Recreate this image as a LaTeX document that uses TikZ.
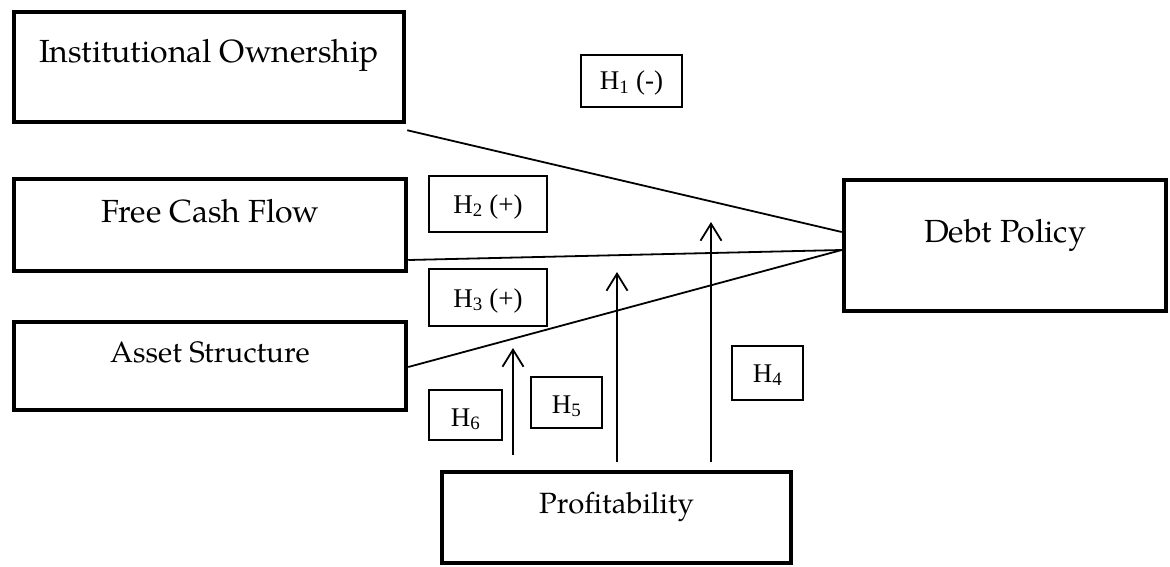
\documentclass[tikz,border=0pt]{standalone}
\usepackage{fontspec}
\setmainfont{texgyrepagella-regular.otf}
\newfontfamily\tms{Liberation Serif}
\usetikzlibrary{arrows.meta,calc}
\begin{document}
\begin{tikzpicture}[x=1pt,y=-1pt,
  mainbox/.style={draw, line width=4.5pt, inner sep=0pt, align=center},
  hyp/.style={draw, line width=1.3pt, inner sep=0pt, align=center, font=\tms\fontsize{27}{30}\selectfont},
  conn/.style={line width=1.8pt},
  arr/.style={conn, -{Straight Barb[length=17pt,width=21pt]}}]
\useasboundingbox (0,0) rectangle (1170,567);
% main boxes
\node[mainbox, minimum width=390pt, text height=51pt, text depth=59pt, font=\fontsize{32}{35}\selectfont] (io) at (209,67) {Institutional Ownership};
\node[mainbox, minimum width=392pt, text height=43pt, text depth=49pt, font=\fontsize{32}{35}\selectfont] (fcf) at (210,225) {Free Cash Flow};
\node[mainbox, minimum width=392pt, text height=40pt, text depth=48pt, font=\fontsize{29.5}{32}\selectfont] (as) at (210,366) {Asset Structure};
\node[mainbox, minimum width=322pt, text height=62pt, text depth=69pt, font=\fontsize{32}{35}\selectfont] (dp) at (1005,245.5) {Debt Policy};
\node[mainbox, minimum width=349pt, text height=41pt, text depth=50pt, font=\fontsize{29.3}{32}\selectfont] (pr) at (616.5,517.5) {Profitability};
% hypothesis labels
\node[hyp, minimum width=101pt, text height=35pt, text depth=17pt] (h1) at (631.5,81) {H\textsubscript{1} (-)};
\node[hyp, minimum width=118pt, text height=37pt, text depth=19pt] (h2) at (488,204) {H\textsubscript{2} (+)};
\node[hyp, minimum width=118pt, text height=38pt, text depth=19pt] (h3) at (488,297.5) {H\textsubscript{3} (+)};
\node[hyp, minimum width=71pt, text height=36pt, text depth=18pt] (h4) at (767.5,373) {H\textsubscript{4}};
\node[hyp, minimum width=71pt, text height=36pt, text depth=15pt] (h5) at (566.5,402.5) {H\textsubscript{5}};
\node[hyp, minimum width=73pt, text height=36pt, text depth=14pt] (h6) at (465.5,415) {H\textsubscript{6}};
% connectors
\draw[conn] ($(io.south east)+(1,6)$) -- ($(dp.west)+(0,-13.5)$);
\draw[conn] ($(fcf.east)+(0,35)$) -- ($(dp.west)+(0,4.5)$);
\draw[conn] ($(as.east)+(0,1)$) -- ($(dp.west)+(0,4.5)$);
% moderating arrows
\coordinate (t4) at (711,222);
\coordinate (t5) at (617,272);
\coordinate (t6) at (513,348);
\draw[arr] ($(pr.north -| t4)+(0,-8)$) -- (t4);
\draw[arr] ($(pr.north -| t5)+(0,-8)$) -- (t5);
\draw[arr] ($(pr.north -| t6)+(0,-15)$) -- (t6);
\end{tikzpicture}
\end{document}
